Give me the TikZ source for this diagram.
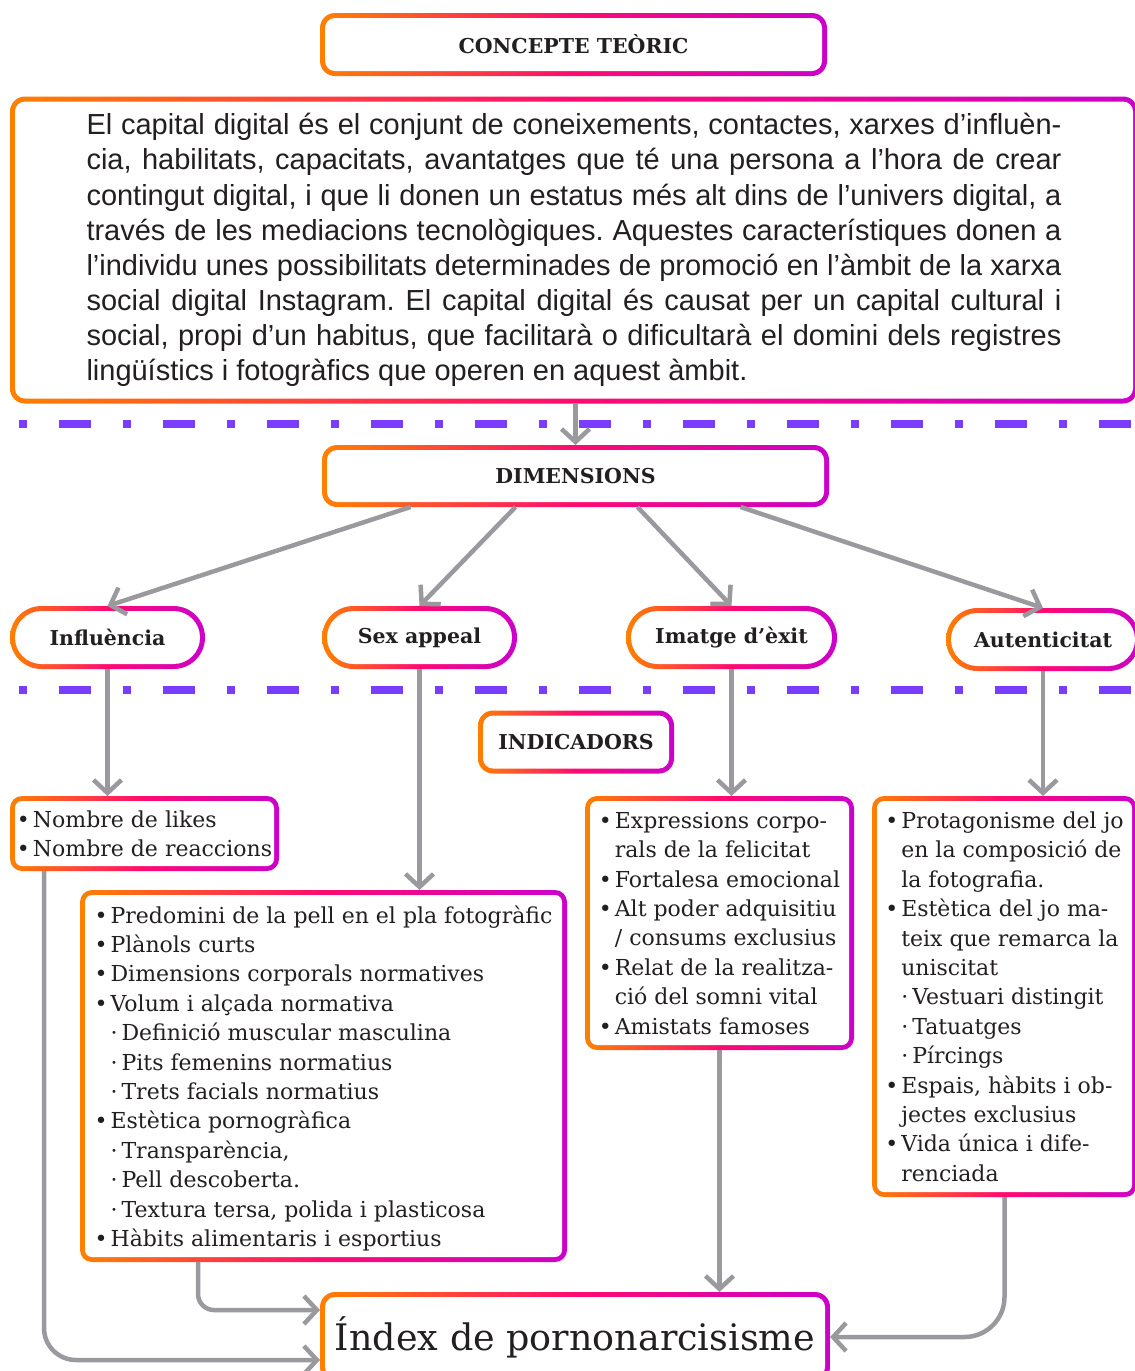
\documentclass[tikz,border=0pt]{standalone}
\usepackage{fontspec}
\setmainfont{DejaVu Serif}
\newfontfamily\parafont{Liberation Sans}
\usetikzlibrary{arrows.meta, calc}
\definecolor{gorange}{HTML}{FF8000}
\definecolor{gpink}{HTML}{FF0A70}
\definecolor{gmagenta}{HTML}{CC00CC}
\definecolor{sepviolet}{HTML}{7A3DFF}
\definecolor{conngray}{HTML}{9A9A9E}
\definecolor{inktext}{HTML}{231F20}
% list helpers
\newcommand{\lbul}{\makebox[16pt][l]{•}}
\newcommand{\lcont}{\hspace*{16pt}}
\newcommand{\lsub}{\hspace*{16pt}·\hspace{4pt}}
\frenchspacing
\tikzset{
  % Graph arrow style
  garr/.style={
    draw=conngray
    , line width=4.5pt
    , -{Straight Barb[length=13pt, width=28pt]}
  },
  % separator line style
  sepline/.style={
    draw=sepviolet
    , line width=7.5pt
    , dash pattern=on 8pt off 32pt on 32pt off 32pt
  },
}
\tikzset{
  % gradient framed box: outer and inner corner radius
  gbox/.style 2 args={
    rounded corners=#1
    , left color=gorange
    , right color=gmagenta
    , middle color=gpink
    , outer sep=0pt
    , text=inktext
    , path picture={
        \fill[white, rounded corners=#2]
          ([shift={(5pt,-5pt)}]path picture bounding box.north west)
          rectangle
          ([shift={(-5pt,5pt)}]path picture bounding box.south east);
      }
  },
  titlebox/.style={
    gbox={15pt}{10pt}
    , font=\bfseries\fontsize{20.5}{24}\selectfont
    , minimum height=63pt
  },
  pillbox/.style={
    gbox={31.5pt}{26.5pt}
    , font=\bfseries\fontsize{20.5}{24}\selectfont
    , minimum height=63pt
  },
  listbox/.style={
    gbox={12pt}{7pt}
    , inner xsep=6pt
    , align=left
    , text depth=0pt
    , font=\fontsize{22}{29.4}\selectfont
  },
}
\begin{document}
\begin{tikzpicture}[x=1pt, y=-1pt]
  \useasboundingbox (0,0) rectangle (1135,1371);
  % top level
  \node[titlebox, minimum width=507pt] (concept) at (573.5,44.5) {CONCEPTE TEÒRIC};
  \node[gbox={15pt}{10pt}
        , minimum width=1128pt
        , minimum height=307pt
        , align=left
        , font=\parafont\fontsize{29}{35.1}\selectfont
       ] (defin) at (574,250)
    {\makebox[975pt][s]{El capital digital és el conjunt de coneixements, contactes, xarxes d’influèn-}\\
     \makebox[975pt][s]{cia, habilitats, capacitats, avantatges que té una persona a l’hora de crear}\\
     \makebox[975pt][s]{contingut digital, i que li donen un estatus més alt dins de l’univers digital, a}\\
     \makebox[975pt][s]{través de les mediacions tecnològiques. Aquestes característiques donen a}\\
     \makebox[975pt][s]{l’individu unes possibilitats determinades de promoció en l’àmbit de la xarxa}\\
     \makebox[975pt][s]{social digital Instagram. El capital digital és causat per un capital cultural i}\\
     \makebox[975pt][s]{social, propi d’un habitus, que facilitarà o dificultarà el domini dels registres}\\
     \makebox[975pt][l]{lingüístics i fotogràfics que operen en aquest àmbit.}};
  % separators
  \coordinate (sepA) at (19,424);
  \coordinate (sepB) at (19,690);
  \draw[sepline] (sepA) -- ++(1125,0);
  \draw[sepline] (sepB) -- ++(1125,0);
  % dimensions
  \node[titlebox, minimum width=507pt, minimum height=62pt] (dimen) at (575.5,476) {DIMENSIONS};
  \node[pillbox, minimum width=195pt] (influ) at (107.5,637.5) {Influència};
  \node[pillbox, minimum width=195pt] (sexap) at (419.5,637.5) {Sex appeal};
  \node[pillbox, minimum width=211pt] (imatg) at (731.5,637.5) {Imatge d’èxit};
  \node[pillbox, minimum width=194pt] (auten) at (1043,639.5) {Autenticitat};
  % indicators
  \node[titlebox, minimum width=196pt] (indic) at (576,742) {INDICADORS};
  \node[listbox, minimum width=269pt, minimum height=75pt] (likes) at (144.5,833.5)
    {\lbul Nombre de likes\\
     \lbul Nombre de reaccions};
  \node[listbox, minimum width=487pt, minimum height=372pt] (pell) at (323.5,1076)
    {\lbul Predomini de la pell en el pla fotogràfic\\
     \lbul Plànols curts\\
     \lbul Dimensions corporals normatives\\
     \lbul Volum i alçada normativa\\
     \lsub Definició muscular masculina\\
     \lsub Pits femenins normatius\\
     \lsub Trets facials normatius\\
     \lbul Estètica pornogràfica\\
     \lsub Transparència,\\
     \lsub Pell descoberta.\\
     \lsub Textura tersa, polida i plasticosa\\
     \lbul Hàbits alimentaris i esportius};
  \node[listbox, minimum width=269pt, minimum height=254pt] (imgbox) at (719.5,923)
    {\lbul Expressions corpo-\\
     \lcont rals de la felicitat\\
     \lbul Fortalesa emocional\\
     \lbul Alt poder adquisitiu\\
     \lcont / consums exclusius\\
     \lbul Relat de la realitza-\\
     \lcont ció del somni vital\\
     \lbul Amistats famoses};
  \node[listbox, minimum width=265pt, minimum height=401pt] (autbox) at (1004.5,996.5)
    {\lbul Protagonisme del jo\\
     \lcont en la composició de\\
     \lcont la fotografia.\\
     \lbul Estètica del jo ma-\\
     \lcont teix que remarca la\\
     \lcont uniscitat\\
     \lsub Vestuari distingit\\
     \lsub Tatuatges\\
     \lsub Pírcings\\
     \lbul Espais, hàbits i ob-\\
     \lcont jectes exclusius\\
     \lbul Vida única i dife-\\
     \lcont renciada};
  % result
  \node[gbox={15pt}{10pt}
        , minimum width=510pt
        , minimum height=90pt
        , font=\fontsize{36.5}{40}\selectfont
       ] (final) at (575,1337) {Índex de pornonarcisisme};
  % connectors
  \draw[garr]
    (defin.south -| dimen.north)
    to
    (dimen.north);
  \draw[garr] ([xshift=-165pt]dimen.south) to (influ.north);
  \draw[garr] ([xshift=-60pt]dimen.south) to (sexap.north);
  \draw[garr] ([xshift=62pt]dimen.south) to (imatg.north);
  \draw[garr] ([xshift=165pt]dimen.south) to (auten.north);
  \draw[garr] (influ.south) to (influ.south |- likes.north);
  \draw[garr] (sexap.south) to (sexap.south |- pell.north);
  \draw[garr] (imatg.south) to (imatg.south |- imgbox.north);
  \draw[garr] (auten.south) to (auten.south |- autbox.north);
  \draw[garr, rounded corners=32pt]
    ([xshift=34pt]likes.south west)
    |-
    ([yshift=-23pt]final.west);
  \draw[garr, rounded corners=16pt]
    ([xshift=118pt]pell.south west)
    |-
    ([yshift=27pt]final.west);
  \draw[garr] (imgbox.south) to (imgbox.south |- final.north);
  \draw[garr, rounded corners=40pt]
    (autbox.south)
    |-
    (final.east);
\end{tikzpicture}
\end{document}
